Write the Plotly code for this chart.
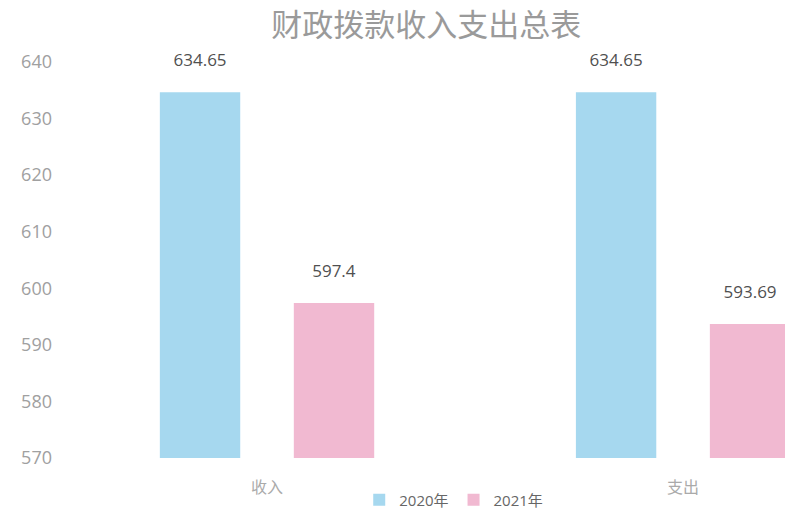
import plotly.graph_objects as go

categories = ["收入", "支出"]
values_2020 = [634.65, 634.65]
values_2021 = [597.4, 593.69]
series_names = ["2020年", "2021年"]
y_ticks = [570, 580, 590, 600, 610, 620, 630, 640]

label_font = dict(size=17, color="#505050", family="Open Sans, Noto Sans CJK SC")
label_template = "%{text}<br><span style='font-size:5px'> </span>"

fig = go.Figure()
fig.add_trace(go.Bar(
    x=categories, y=values_2020, name=series_names[0],
    marker=dict(color="#a6d8ef", line=dict(width=0)),
    text=[str(v) for v in values_2020], texttemplate=label_template,
    textposition="outside", cliponaxis=False, textfont=label_font,
))
fig.add_trace(go.Bar(
    x=categories, y=values_2021, name=series_names[1],
    marker=dict(color="#f1b9d1", line=dict(width=0)),
    text=[str(v) for v in values_2021], texttemplate=label_template,
    textposition="outside", cliponaxis=False, textfont=label_font,
))

fig.update_layout(
    width=785, height=514,
    margin=dict(l=59, r=0, t=62, b=56, autoexpand=False),
    paper_bgcolor="white", plot_bgcolor="white",
    barmode="group", bargap=0.356, bargroupgap=0.4,
    title=dict(text="财政拨款收入支出总表", x=0.543, xanchor="center",
               y=0.972, yanchor="top",
               font=dict(size=31, color="#9a9a9a", family="Noto Sans CJK SC")),
    showlegend=True,
    legend=dict(orientation="h", xref="container", yref="container",
                x=0.578, xanchor="center", y=0.027, yanchor="middle",
                font=dict(size=15, color="#666666", family="Open Sans, Noto Sans CJK SC"),
                itemwidth=30, traceorder="normal"),
    font=dict(family="Open Sans, Noto Sans CJK SC"),
)
fig.update_xaxes(range=[-0.5, 1.245], showgrid=False, showline=False, zeroline=False,
                 ticks="", ticklabelstandoff=18, automargin=False,
                 tickfont=dict(size=16, color="#aaaaaa", family="Noto Sans CJK SC"))
fig.update_yaxes(range=[570, 640], tickvals=y_ticks, showgrid=False, showline=False,
                 zeroline=False, ticks="", ticklabelstandoff=6, automargin=False,
                 tickfont=dict(size=18, color="#a0a0a0", family="Open Sans"))

fig.write_html("out.html",
               config={"displayModeBar": False},
               post_script="document.body.style.margin='0';document.documentElement.style.margin='0';")
